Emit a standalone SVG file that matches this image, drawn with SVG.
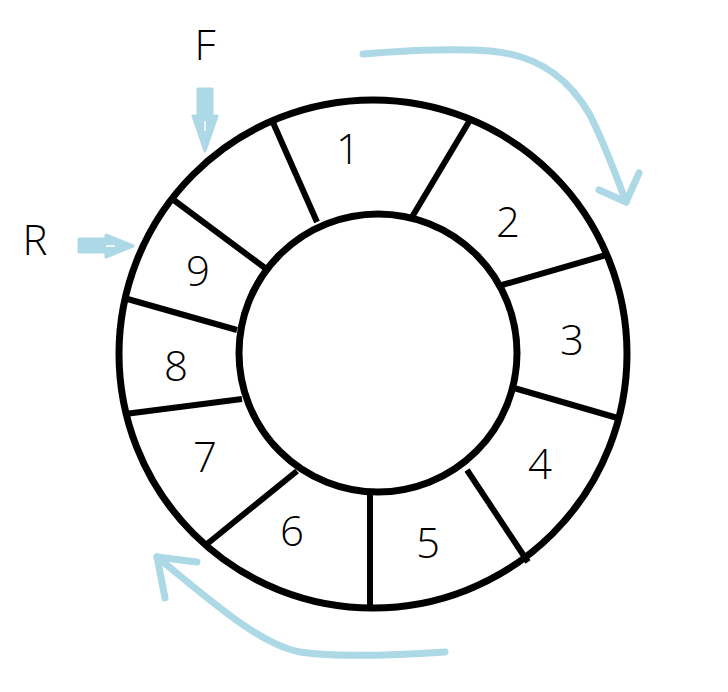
<svg xmlns="http://www.w3.org/2000/svg" width="728" height="692" viewBox="0 0 728 692">
  <style>
    .ring { fill: none; stroke: #000; stroke-width: 7; }
    .div { stroke: #000; stroke-width: 6; stroke-linecap: butt; }
    .lbl { font-family: "Open Sans", "Liberation Sans", sans-serif; font-weight: 300; font-size: 42px; fill: #000; text-anchor: middle; }
    .flow { fill: none; stroke: #ADD8E6; stroke-width: 7; stroke-linecap: round; stroke-linejoin: round; }
    .ptr { fill: #ADD8E6; stroke: #ADD8E6; stroke-width: 3; stroke-linejoin: round; }
    .notch { stroke: #fff; stroke-width: 1.5; }
  </style>
  <rect width="728" height="692" fill="#fff"/>
  <g id="ring">
    <circle class="ring" cx="373" cy="354" r="254"/>
    <circle class="ring" cx="378" cy="353" r="139"/>
  </g>
  <g id="dividers">
    <line class="div" x1="271" y1="118" x2="317" y2="222"/>
    <line class="div" x1="470" y1="120" x2="412" y2="217"/>
    <line class="div" x1="606" y1="255" x2="502" y2="285"/>
    <line class="div" x1="621" y1="419" x2="514" y2="388"/>
    <line class="div" x1="528" y1="562" x2="467" y2="470"/>
    <line class="div" x1="370" y1="493" x2="370" y2="608"/>
    <line class="div" x1="207" y1="544" x2="297" y2="471"/>
    <line class="div" x1="125" y1="414" x2="242" y2="399"/>
    <line class="div" x1="124" y1="298" x2="237" y2="330"/>
    <line class="div" x1="171" y1="198" x2="265" y2="268"/>
  </g>
  <g id="slot-1"><text class="lbl" x="348" y="164">1</text></g>
  <g id="slot-2"><text class="lbl" x="508" y="237">2</text></g>
  <g id="slot-3"><text class="lbl" x="572" y="355">3</text></g>
  <g id="slot-4"><text class="lbl" x="540" y="479">4</text></g>
  <g id="slot-5"><text class="lbl" x="428" y="558">5</text></g>
  <g id="slot-6"><text class="lbl" x="292" y="546">6</text></g>
  <g id="slot-7"><text class="lbl" x="205" y="472">7</text></g>
  <g id="slot-8"><text class="lbl" x="176" y="381">8</text></g>
  <g id="slot-9"><text class="lbl" x="198" y="286">9</text></g>
  <g id="front">
    <text class="lbl" x="205" y="60">F</text>
    <polygon class="ptr" points="198,89 212,89 212,116 217,116 205,151 193,116 198,116"/>
    <line class="notch" x1="205" y1="121" x2="205" y2="131"/>
  </g>
  <g id="rear">
    <text class="lbl" x="35" y="255">R</text>
    <polygon class="ptr" points="79,239 106,239 106,235 133,246 106,257 106,252 79,252"/>
    <line class="notch" x1="106" y1="246" x2="115" y2="246"/>
  </g>
  <g id="connectors">
    <path class="flow" d="M363,54 C400,51 450,48 490,51 C540,55 570,80 590,115 C605,145 616,175 626,202"/>
    <polyline class="flow" points="599,190 626,202 639,173"/>
    <path class="flow" d="M445,652 C400,655 340,658 300,652 C260,645 210,600 157,557"/>
    <polyline class="flow" points="165,598 157,557 197,562"/>
  </g>
</svg>
